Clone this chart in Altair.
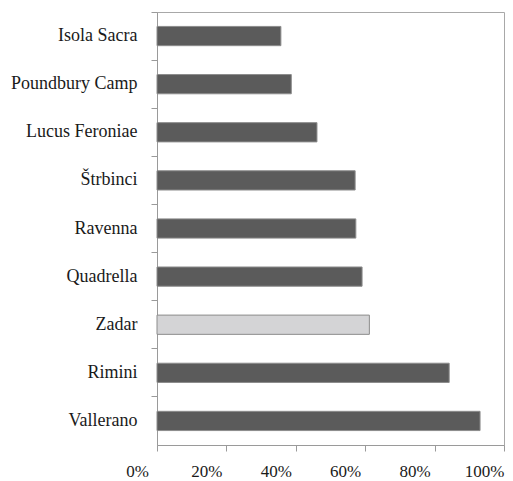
import altair as alt
import pandas as pd

sites = ["Isola Sacra", "Poundbury Camp", "Lucus Feroniae", "Štrbinci", "Ravenna",
         "Quadrella", "Zadar", "Rimini", "Vallerano"]
values = [0.357, 0.387, 0.461, 0.571, 0.573, 0.591, 0.612, 0.842, 0.931]
highlight = [False, False, False, False, False, False, True, False, False]
x_ticks = [0, 0.2, 0.4, 0.6, 0.8, 1.0]

df = pd.DataFrame({"site": sites, "value": values, "hl": highlight})

FONT = "Liberation Serif"

chart = alt.Chart(df).mark_bar(
    height={"band": 0.4}, stroke="#8c8c8c", strokeWidth=1
).encode(
    y=alt.Y("site:N", sort=sites, title=None,
            scale=alt.Scale(paddingInner=0, paddingOuter=0),
            axis=alt.Axis(bandPosition=0, tickSize=6, labelPadding=14,
                          minExtent=149, maxExtent=149, labelFontSize=18,
                          labelFont=FONT, labelColor="#1a1a1a",
                          domainColor="#9a9a9a", tickColor="#9a9a9a")),
    x=alt.X("value:Q", title=None,
            scale=alt.Scale(domain=[0, 1], nice=False, zero=True),
            axis=alt.Axis(values=x_ticks, format=".0%", grid=False, tickSize=6,
                          labelPadding=12, labelOffset=-20, labelFlush=False,
                          labelFontSize=17,
                          labelFont=FONT, labelColor="#1a1a1a",
                          domainColor="#9a9a9a", tickColor="#9a9a9a")),
    color=alt.Color("hl:N", legend=None,
                    scale=alt.Scale(domain=[False, True], range=["#5b5b5b", "#d4d4d6"])),
).properties(
    width=347, height=433,
    padding={"left": 0, "top": 3, "right": 0, "bottom": 0},
).configure_view(
    stroke="#a8a8a8", strokeWidth=1
)

chart.save("out.html", embed_options={"renderer": "svg", "actions": False})
